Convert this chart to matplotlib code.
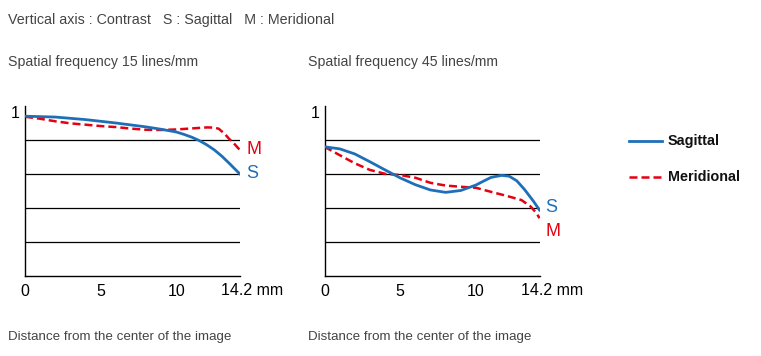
import matplotlib
matplotlib.use("Agg")
import matplotlib.pyplot as plt

plt.rcParams["font.family"] = ["Liberation Sans", "DejaVu Sans"]

BLUE = "#1f6fb8"
RED = "#e60012"
TEXT = "#444444"

# Left chart: 15 lines/mm
x15_s = [0, 2, 4, 6, 8, 9, 10, 10.5, 11, 11.5, 12, 12.5, 13, 13.5, 14, 14.2]
y15_s = [0.94, 0.935, 0.92, 0.90, 0.877, 0.863, 0.847, 0.833, 0.817, 0.797,
         0.772, 0.742, 0.705, 0.662, 0.617, 0.60]
x15_m = [0, 1, 2, 3, 4, 5, 6, 7, 8, 9, 10, 11, 12, 12.5, 12.8, 13.2, 13.5,
         13.8, 14.2]
y15_m = [0.937, 0.925, 0.91, 0.898, 0.89, 0.882, 0.876, 0.867, 0.86, 0.859,
         0.862, 0.868, 0.874, 0.873, 0.866, 0.835, 0.805, 0.78, 0.74]

# Right chart: 45 lines/mm
x45_s = [0, 1, 2, 3, 4, 5, 6, 7, 8, 9, 10, 10.5, 11, 11.7, 12.2, 12.7, 13.2,
         13.8, 14.2]
y45_s = [0.76, 0.748, 0.718, 0.672, 0.624, 0.577, 0.537, 0.506, 0.492, 0.503,
         0.535, 0.558, 0.58, 0.592, 0.587, 0.56, 0.51, 0.44, 0.388]
x45_m = [0, 1, 2, 3, 4, 5, 6, 7, 8, 9, 10, 11, 12, 13, 13.6, 14.0, 14.2]
y45_m = [0.76, 0.711, 0.663, 0.624, 0.601, 0.594, 0.578, 0.548, 0.532, 0.525,
         0.519, 0.495, 0.472, 0.447, 0.41, 0.37, 0.34]

grid_levels = [0.2, 0.4, 0.6, 0.8]
xticks = [0, 5, 10]
xtick_labels = ["0", "5", "10"]
last_tick = 14.2

W, H = 761, 356
fig = plt.figure(figsize=(W / 100, H / 100), dpi=100)

fig.text(8 / W, 1 - 20 / H,
         "Vertical axis : Contrast   S : Sagittal   M : Meridional",
         fontsize=10.3, color=TEXT, va="center")


def panel(left_px, title, xs, ys, xm, ym, s_lab_y, m_lab_y, title_x):
    ax = fig.add_axes([left_px / W, 80 / H, 215 / W, 170 / H])
    ax.set_xlim(0, last_tick)
    ax.set_ylim(0, 1)
    for g in grid_levels:
        ax.plot([0, last_tick], [g, g], color="black", lw=0.9, zorder=1)
    ax.plot(xm, ym, color=RED, lw=1.8, ls=(0, (3.2, 1.6)), zorder=2)
    ax.plot(xs, ys, color=BLUE, lw=2.0, zorder=3)
    ax.spines["top"].set_visible(False)
    ax.spines["right"].set_visible(False)
    for s in ("left", "bottom"):
        ax.spines[s].set_linewidth(1.0)
    ax.set_yticks([])
    ax.text(-0.35, 0.955, "1", fontsize=11.5, ha="right", va="center")
    ax.set_xticks(xticks)
    ax.set_xticklabels(xtick_labels, fontsize=11.5)
    ax.tick_params(length=0, pad=6)
    ax.text(last_tick - 1.25, -0.088, f"{last_tick} mm", fontsize=11.5,
            ha="left", va="center")
    ax.text(14.6, s_lab_y, "S", color=BLUE, fontsize=13, va="center")
    ax.text(14.6, m_lab_y, "M", color=RED, fontsize=13, va="center")
    fig.text(title_x / W, 1 - 62 / H, title, fontsize=10.2, color=TEXT,
             va="center")
    fig.text(title_x / W, 1 - 337 / H, "Distance from the center of the image",
             fontsize=9.6, color=TEXT, va="center")
    return ax


panel(25, "Spatial frequency 15 lines/mm", x15_s, y15_s, x15_m, y15_m,
      0.6, 0.745, 8)
panel(324.5, "Spatial frequency 45 lines/mm", x45_s, y45_s, x45_m, y45_m,
      0.4, 0.26, 308)

# legend
fig.lines.append(plt.Line2D([629 / W, 662 / W], [1 - 141 / H] * 2,
                            color=BLUE, lw=2.0, transform=fig.transFigure))
fig.lines.append(plt.Line2D([629 / W, 662 / W], [1 - 177 / H] * 2,
                            color=RED, lw=1.8, ls=(0, (3.2, 1.6)),
                            transform=fig.transFigure))
fig.text(668 / W, 1 - 141 / H, "Sagittal", fontsize=10.4, weight="bold",
         va="center", color="#111111")
fig.text(668 / W, 1 - 177 / H, "Meridional", fontsize=10.4, weight="bold",
         va="center", color="#111111")

fig.savefig("out.png", dpi=100)
